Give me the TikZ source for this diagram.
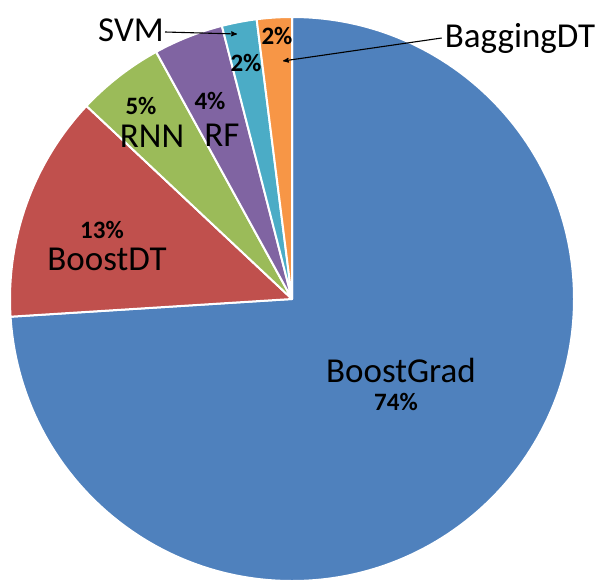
\documentclass[tikz,border=0pt]{standalone}
\usepackage{fontspec}
\setmainfont{Carlito}
\usepackage{tikz}
\usetikzlibrary{arrows, positioning}
\definecolor{cgrad}{HTML}{4F81BD}
\definecolor{cdt}{HTML}{C0504D}
\definecolor{crnn}{HTML}{9BBB59}
\definecolor{crf}{HTML}{8064A2}
\definecolor{csvm}{HTML}{4BACC6}
\definecolor{cbag}{HTML}{F79646}
\tikzset{
  slice/.style = {draw=white, line width=2pt, line join=round},
  lbl/.style = {anchor=base, inner sep=0pt, font=\fontsize{35}{37}\selectfont},
  pct/.style = {anchor=base, inner sep=0pt, text depth=0pt, font=\fontsize{25}{27}\selectfont\bfseries},
  callout/.style = {->, >=stealth', line width=1.1pt}
}
\begin{document}
\begin{tikzpicture}[x=1pt, y=1pt]
\useasboundingbox (-292,-282) rectangle (307,299);
\foreach \a/\b/\c in {90/-176.4/cgrad, -176.4/-223.2/cdt, -223.2/-241.2/crnn,
  -241.2/-255.6/crf, -255.6/-262.8/csvm, -262.8/-270/cbag}
  \filldraw[slice, fill=\c] (0,0) -- (\a:282pt) arc[start angle=\a, end angle=\b, radius=282pt] -- cycle;
\node[lbl] (grad) at (109,-83) {BoostGrad};
\node[pct] (pgrad) at (104,-111) {74\%};
\node[pct] (pdt) at (-190,61) {13\%};
\node[lbl] (dt) at (-185,29) {BoostDT};
\node[pct] (prnn) at (-151,184) {5\%};
\node[lbl] (rnn) at (-140,151) {RNN};
\node[pct] (prf) at (-82,189) {4\%};
\node[lbl] (rf) at (-70,152) {RF};
\node[pct] (psvm) at (-46,227) {2\%};
\node[pct] (pbag) at (-15,254) {2\%};
\node[lbl] (svm) at (-161,257) {SVM};
\node[lbl] (bag) at (228,251) {BaggingDT};
\coordinate (svmtip) at (-55,265);
\coordinate (bagtip) at (-9,238);
\draw[callout] ([xshift=1pt,yshift=10pt]svm.base east) -- (svmtip);
\draw[callout] ([xshift=-3pt,yshift=10pt]bag.base west) -- (bagtip);
\end{tikzpicture}
\end{document}
